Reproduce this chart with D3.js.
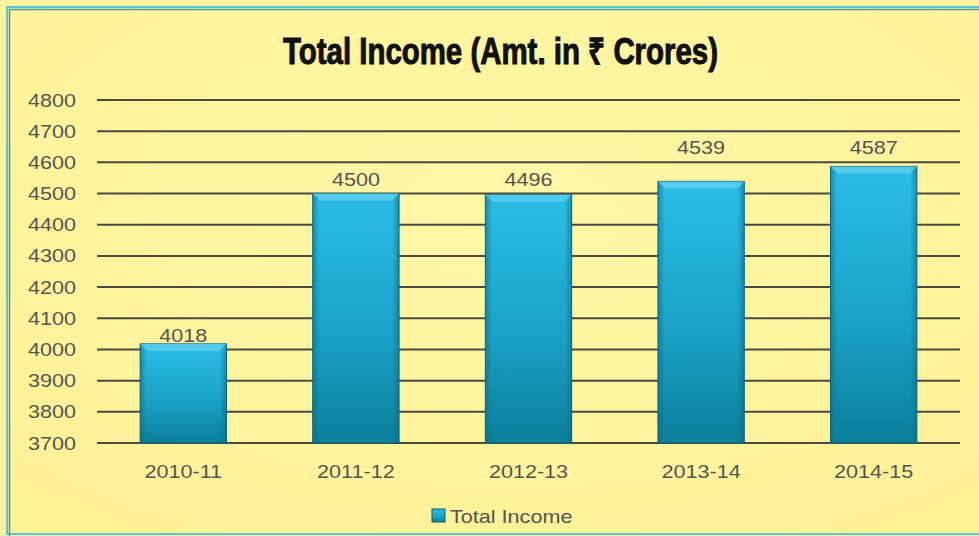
<!DOCTYPE html>
<html>
<head>
<meta charset="utf-8">
<script src="https://cdn.jsdelivr.net/npm/d3@7"></script>
<style>
  body { margin: 0; background: #fff6a0; }
  svg { display: block; }
</style>
</head>
<body>
<div id="chart"></div>
<script>
// chart data
var years = ["2010-11", "2011-12", "2012-13", "2013-14", "2014-15"];
var income = [4018, 4500, 4496, 4539, 4587];
var yTicks = [3700, 3800, 3900, 4000, 4100, 4200, 4300, 4400, 4500, 4600, 4700, 4800];
// how far each value label sits above its bar (px), as placed in the original
var labelLift = [2, 8, 9, 27, 12];

var width = 979,
  height = 536;

var svg = d3.select("#chart").append("svg")
  .attr("width", width)
  .attr("height", height);

var defs = svg.append("defs");

// soft background glow
var bg = defs.append("radialGradient").attr("id", "bg")
  .attr("cx", "50%").attr("cy", "40%").attr("r", "70%");
bg.append("stop").attr("offset", "0%").attr("stop-color", "#fff8a8");
bg.append("stop").attr("offset", "100%").attr("stop-color", "#fff196");

var barGrad = defs.append("linearGradient").attr("id", "barGrad")
  .attr("x1", 0).attr("y1", 0).attr("x2", 0).attr("y2", 1);
barGrad.append("stop").attr("offset", "0%").attr("stop-color", "#2bbde6");
barGrad.append("stop").attr("offset", "55%").attr("stop-color", "#1aa3c8");
barGrad.append("stop").attr("offset", "100%").attr("stop-color", "#0c7f9c");

var sideGrad = defs.append("linearGradient").attr("id", "sideGrad")
  .attr("x1", 0).attr("y1", 0).attr("x2", 1).attr("y2", 0);
sideGrad.append("stop").attr("offset", "0%").attr("stop-color", "#0a6a84").attr("stop-opacity", 0.55);
sideGrad.append("stop").attr("offset", "8%").attr("stop-color", "#0a6a84").attr("stop-opacity", 0);
sideGrad.append("stop").attr("offset", "92%").attr("stop-color", "#0a6a84").attr("stop-opacity", 0);
sideGrad.append("stop").attr("offset", "100%").attr("stop-color", "#0a6a84").attr("stop-opacity", 0.55);

svg.append("rect").attr("width", width).attr("height", height).attr("fill", "#fff39c");

// frame
svg.append("rect")
  .attr("x", 7).attr("y", 7).attr("width", width + 20).attr("height", 527)
  .attr("fill", "url(#bg)")
  .attr("stroke", "#5fc3d6").attr("stroke-width", 2);
svg.append("rect")
  .attr("x", 9.5).attr("y", 9.5).attr("width", width + 20).attr("height", 540)
  .attr("fill", "none")
  .attr("stroke", "#3a9fb2").attr("stroke-width", 1.5);

// title (condensed heavy face, squeezed to the original's width)
svg.append("text")
  .attr("x", 283).attr("y", 64)
  .attr("textLength", 435)
  .attr("lengthAdjust", "spacingAndGlyphs")
  .style("font-family", "'Liberation Sans', Arial, sans-serif")
  .style("font-weight", "bold")
  .style("font-size", "36px")
  .attr("fill", "#111")
  .attr("stroke", "#111")
  .attr("stroke-width", 1)
  .text("Total Income (Amt. in \u20B9 Crores)");

var x = d3.scaleBand()
  .domain(years)
  .range([97, 960])
  .paddingInner(0.5)
  .paddingOuter(0.25);

var y = d3.scaleLinear()
  .domain([3700, 4800])
  .range([443, 100]);

// text in the original is stretched sideways a little
function stretchedText(sel, anchor) {
  return sel.append("text")
    .attr("transform", "scale(1.2,1)")
    .attr("text-anchor", anchor)
    .style("font-family", "'Liberation Sans', Arial, sans-serif")
    .style("font-size", "18px")
    .attr("fill", "#555");
}

// grid lines
svg.append("g").selectAll("line")
  .data(yTicks)
  .enter().append("line")
  .attr("x1", 97).attr("x2", 960)
  .attr("y1", function(d) { return y(d); })
  .attr("y2", function(d) { return y(d); })
  .attr("stroke", "#4a4a40")
  .attr("stroke-width", 2);

// y axis labels
svg.append("g").selectAll("g")
  .data(yTicks)
  .enter().append("g")
  .attr("transform", function(d) { return "translate(76," + (y(d) + 6.5) + ")"; })
  .each(function(d) {
    stretchedText(d3.select(this), "end").text(d);
  });

// bars
var bars = svg.append("g").selectAll("g")
  .data(years)
  .enter().append("g");

bars.append("rect")
  .attr("x", function(d) { return x(d); })
  .attr("y", function(d, i) { return y(income[i]); })
  .attr("width", x.bandwidth())
  .attr("height", function(d, i) { return y(3700) - y(income[i]); })
  .attr("fill", "url(#barGrad)")
  .attr("stroke", "#0b5f75")
  .attr("stroke-width", 1);

bars.append("rect")
  .attr("x", function(d) { return x(d); })
  .attr("y", function(d, i) { return y(income[i]); })
  .attr("width", x.bandwidth())
  .attr("height", function(d, i) { return y(3700) - y(income[i]); })
  .attr("fill", "url(#sideGrad)");

// top bevel highlight
bars.append("path")
  .attr("d", function(d, i) {
    var x0 = x(d), x1 = x(d) + x.bandwidth(), t = y(income[i]);
    return "M" + x0 + "," + t + "L" + x1 + "," + t + "L" + (x1 - 7) + "," + (t + 7) + "L" + (x0 + 7) + "," + (t + 7) + "Z";
  })
  .attr("fill", "#5fd0ee")
  .attr("opacity", 0.8);

// value labels
bars.append("g")
  .attr("transform", function(d, i) {
    return "translate(" + (x(d) + x.bandwidth() / 2) + "," + (y(income[i]) - labelLift[i]) + ")";
  })
  .each(function(d, i) {
    stretchedText(d3.select(this), "middle").text(income[i]);
  });

// x labels
svg.append("g").selectAll("g")
  .data(years)
  .enter().append("g")
  .attr("transform", function(d) { return "translate(" + (x(d) + x.bandwidth() / 2) + ",478)"; })
  .each(function(d) {
    stretchedText(d3.select(this), "middle").text(d);
  });

// legend
svg.append("rect")
  .attr("x", 432).attr("y", 509).attr("width", 13).attr("height", 13)
  .attr("fill", "url(#barGrad)")
  .attr("stroke", "#0b5f75").attr("stroke-width", 1);
svg.append("g")
  .attr("transform", "translate(450,523)")
  .call(function(g) { stretchedText(g, "start").text("Total Income"); });
</script>
</body>
</html>
